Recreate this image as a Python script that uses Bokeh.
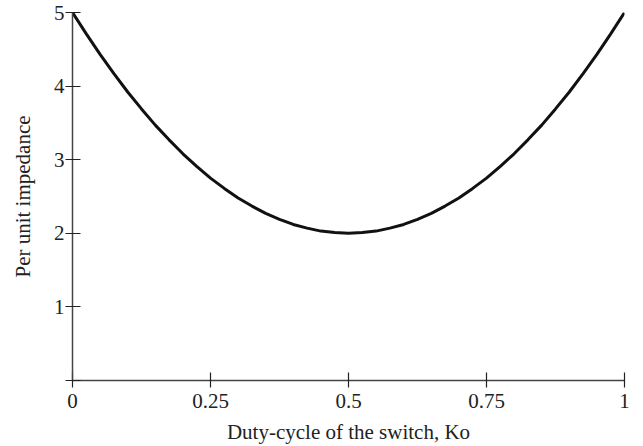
from bokeh.plotting import figure
from bokeh.models import Range1d, FixedTicker, Label
from bokeh.embed import file_html
from bokeh.resources import INLINE

duty_cycle = [0.0, 0.025, 0.05, 0.075, 0.1, 0.125, 0.15, 0.175, 0.2, 0.225, 0.25,
              0.275, 0.3, 0.325, 0.35, 0.375, 0.4, 0.425, 0.45, 0.475, 0.5,
              0.525, 0.55, 0.575, 0.6, 0.625, 0.65, 0.675, 0.7, 0.725, 0.75,
              0.775, 0.8, 0.825, 0.85, 0.875, 0.9, 0.925, 0.95, 0.975, 1.0]
impedance = [5.0, 4.71, 4.43, 4.17, 3.92, 3.69, 3.47, 3.27, 3.08, 2.91, 2.75,
             2.61, 2.48, 2.37, 2.27, 2.19, 2.12, 2.07, 2.03, 2.01, 2.0,
             2.01, 2.03, 2.07, 2.12, 2.19, 2.27, 2.37, 2.48, 2.61, 2.75,
             2.91, 3.08, 3.27, 3.47, 3.69, 3.92, 4.17, 4.43, 4.71, 5.0]
x_ticks = [0, 0.25, 0.5, 0.75, 1]
x_tick_labels = ["0", "0.25", "0.5", "0.75", "1"]
y_ticks = [0, 1, 2, 3, 4, 5]
y_tick_labels = ["", "1", "2", "3", "4", "5"]

FONT = "Liberation Serif"
W, H = 636, 446

p = figure(width=W, height=H, output_backend="svg", toolbar_location=None,
           x_range=Range1d(0, 1), y_range=Range1d(0, 5),
           min_border_left=72, min_border_right=W - 624,
           min_border_top=12, min_border_bottom=H - 383)
p.outline_line_color = None
p.grid.visible = False
p.background_fill_color = "white"

p.line(duty_cycle, impedance, line_color="#111111", line_width=3)

p.xaxis.ticker = FixedTicker(ticks=x_ticks)
p.xaxis.major_label_overrides = {t: l for t, l in zip(x_ticks, x_tick_labels)}
p.yaxis.ticker = FixedTicker(ticks=y_ticks)
p.yaxis.major_label_overrides = {t: l for t, l in zip(y_ticks, y_tick_labels)}
p.xaxis.minor_tick_line_color = None
p.yaxis.minor_tick_line_color = None

for ax in (p.xaxis[0], p.yaxis[0]):
    ax.axis_line_color = "#444444"
    ax.axis_line_width = 1.5
    ax.major_tick_line_color = "#222222"
    ax.major_tick_line_width = 1.2
    ax.major_tick_in = 8
    ax.major_tick_out = 7
    ax.major_label_text_font = FONT
    ax.major_label_text_font_size = "21px"
    ax.major_label_text_color = "#222222"
    ax.axis_label_text_font = FONT
    ax.axis_label_text_font_size = "21px"
    ax.axis_label_text_font_style = "normal"
    ax.axis_label_text_color = "#222222"

p.xaxis.axis_label = "Duty-cycle of the switch, Ko"
p.yaxis.axis_label = "Per unit impedance"
p.xaxis.major_label_standoff = 6
p.xaxis.axis_label_standoff = 9
p.yaxis.major_label_standoff = 1
p.yaxis.axis_label_standoff = 16

p.add_layout(Label(x=1.012, y=0.22, text=".", text_font=FONT,
                   text_font_size="20px", text_color="#222222"))

open("out.html", "w").write(file_html(p, INLINE))
